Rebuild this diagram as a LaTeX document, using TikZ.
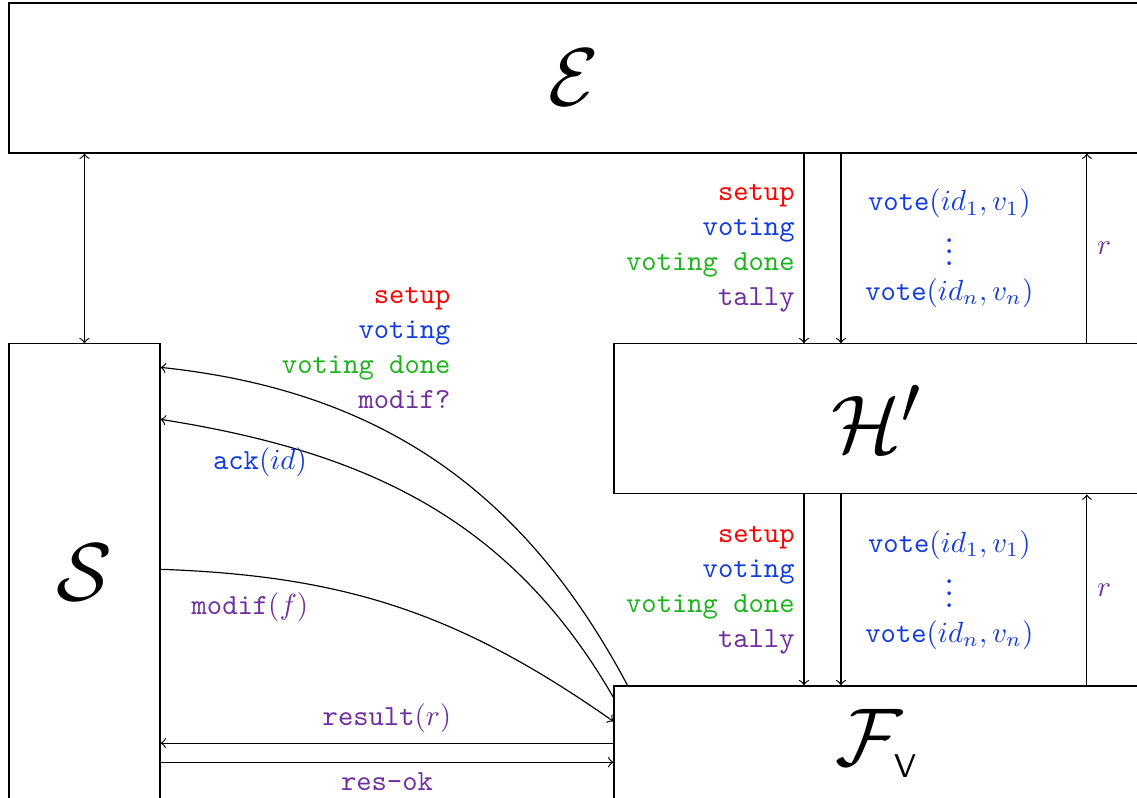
\documentclass[tikz,border=0pt]{standalone}
\usepackage{graphicx}
\usetikzlibrary{calc}
\definecolor{cred}{RGB}{255,0,0}
\definecolor{cblue}{RGB}{20,60,220}
\definecolor{cgreen}{RGB}{30,180,30}
\definecolor{cpurple}{RGB}{112,48,160}
\newcommand{\bigparty}[1]{\scalebox{1.13}{\Huge$#1$}}

\begin{document}
\begin{tikzpicture}[
  party/.style={rectangle, draw, minimum height=1.807cm, inner sep=0pt},
  arrow/.style={->},
  msgs/.style={font=\ttfamily, align=right, inner sep=3pt},
  votes/.style={font=\ttfamily, align=center, text=cblue},
]

\useasboundingbox (0,0) rectangle (13.70,9.614);
\clip (0,0) rectangle (13.70,9.614);

% === PARTIES ===
\node[party, minimum width=13.62cm] (E) at (6.918,8.6745) {\bigparty{\mathcal{E}}};
\node[party, minimum width=1.82cm, minimum height=5.50cm] (S) at (1.018,2.72) {\bigparty{\mathcal{S}}};
\node[party, minimum width=6.33cm] (H) at (10.563,4.5665) {\bigparty{\mathcal{H}'}};
\node[party, minimum width=6.33cm, minimum height=1.379cm] (F) at (10.563,0.6595)
  {\bigparty{\mathcal{F}_{\mbox{\normalsize\sffamily V}}}};

% === E <-> S ===
\draw[<->] (S.north) -- (S.north |- E.south);

% === E -> H' ===
\draw[arrow] (9.687,0 |- E.south) -- node[msgs, left] (phE)
  {{\color{cred}setup}\\{\color{cblue}voting}\\{\color{cgreen}voting done}\\{\color{cpurple}tally}} (9.687,0 |- H.north);
\draw[arrow] (10.133,0 |- E.south) -- node[votes, anchor=west, xshift=0.17cm] (voteE)
  {vote$(id_1, v_1)$\\$\vdots$\\vote$(id_n, v_n)$} (10.133,0 |- H.north);
\draw[arrow] (13.096,0 |- H.north) -- node[right, text=cpurple] (rE) {$r$} (13.096,0 |- E.south);

% === H' -> F ===
\draw[arrow] (9.687,0 |- H.south) -- node[msgs, left] (phH)
  {{\color{cred}setup}\\{\color{cblue}voting}\\{\color{cgreen}voting done}\\{\color{cpurple}tally}} (9.687,0 |- F.north);
\draw[arrow] (10.133,0 |- H.south) -- node[votes, anchor=west, xshift=0.17cm] (voteH)
  {vote$(id_1, v_1)$\\$\vdots$\\vote$(id_n, v_n)$} (10.133,0 |- F.north);
\draw[arrow] (13.096,0 |- F.north) -- node[right, text=cpurple] (rH) {$r$} (13.096,0 |- H.south);

% === F <-> S ===
\draw[arrow] ([xshift=0.17cm]F.north west) to[out=118, in=-6] ([yshift=-0.29cm]S.north east);
\draw[arrow] ([yshift=-0.145cm]F.north west) to[out=120, in=-9] ([yshift=-0.916cm]S.north east);
\draw[arrow] ([yshift=-2.723cm]S.north east) to[out=-2, in=145] ([yshift=-0.434cm]F.north west);

\node[msgs, anchor=east] (phS) at (5.54,5.42)
  {{\color{cred}setup}\\{\color{cblue}voting}\\{\color{cgreen}voting done}\\{\color{cpurple}modif?}};
\node[text=cblue] (ackS) at (3.133,4.048) {\texttt{ack}$(id)$};
\node[text=cpurple] (modS) at (3.012,2.301) {\texttt{modif}$(f)$};

\draw[arrow] (F.west) -- node[above, text=cpurple] (resR)
  {\texttt{result}$(r)$} (F.west -| S.east);
\draw[arrow] ($(F.west -| S.east)+(0,-0.23)$) -- node[below, text=cpurple] (resOk)
  {\texttt{res-ok}} ($(F.west)+(0,-0.23)$);
\end{tikzpicture}
\end{document}
